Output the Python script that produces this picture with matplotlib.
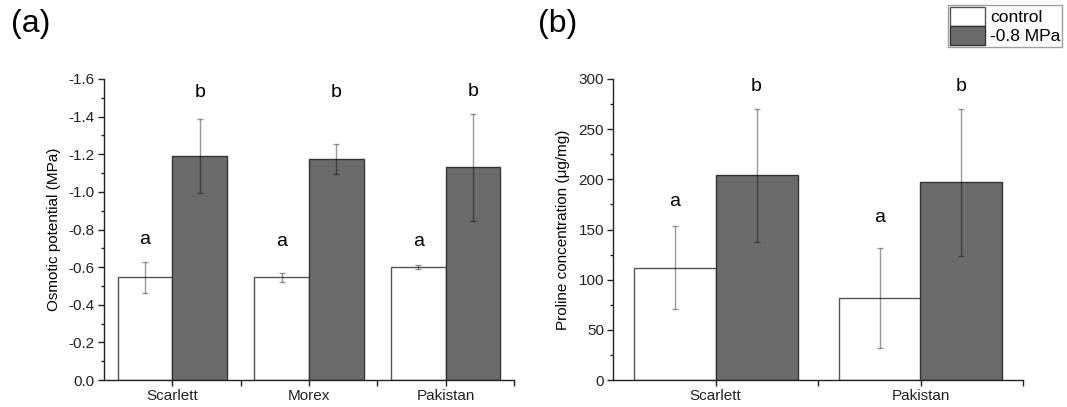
import matplotlib
matplotlib.use("Agg")
import matplotlib.pyplot as plt
import numpy as np
from matplotlib.ticker import MultipleLocator, FixedLocator
from matplotlib.patches import Patch

plt.rcParams['font.family'] = ['Liberation Sans', 'DejaVu Sans']
plt.rcParams['axes.unicode_minus'] = False

# Panel (a) data
cats_a = ["Scarlett", "Morex", "Pakistan"]
ctrl_a = [-0.545, -0.545, -0.600]
ctrl_a_err = [0.082, 0.025, 0.010]
stress_a = [-1.192, -1.175, -1.130]
stress_a_err = [0.197, 0.080, 0.285]
letters_ctrl_a = [-0.745, -0.735, -0.735]
letters_stress_a = [-1.53, -1.53, -1.535]

# Panel (b) data
cats_b = ["Scarlett", "Pakistan"]
ctrl_b = [112, 82]
ctrl_b_err = [41, 50]
stress_b = [204, 197]
stress_b_err = [66, 73]
letters_ctrl_b = [178, 162]
letters_stress_b = [293, 293]

legend_labels = ["control", "-0.8 MPa"]

W, H = 1067, 407
fig = plt.figure(figsize=(W / 100, H / 100), dpi=100)

dark = "#6b6b6b"
edge_ctrl = "#555555"
edge_dark = "#333333"
err_kw = dict(ecolor=(0, 0, 0, 0.4), elinewidth=1.0, capsize=2.5, capthick=1.0)

def style_axes(ax, n):
    ax.spines['top'].set_visible(False)
    ax.spines['right'].set_visible(False)
    for s in ['left', 'bottom']:
        ax.spines[s].set_linewidth(1.0)
        ax.spines[s].set_color("#222222")
    ax.set_xlim(-0.5, n - 0.5)
    ax.xaxis.set_minor_locator(FixedLocator(np.arange(0.5, n, 1.0)))
    ax.tick_params(axis='both', which='major', direction='out', length=4, width=1, labelsize=11,
                   colors="#222222", pad=2.5)
    ax.tick_params(axis='both', which='minor', direction='out', length=2.5, width=1, colors="#222222")
    ax.tick_params(axis='x', which='minor', length=4)

w = 0.4
# Panel (a)
axa = fig.add_axes([104 / W, 1 - 380 / H, (514 - 104) / W, (380 - 79) / H])
x = np.arange(len(cats_a))
axa.bar(x - w / 2, ctrl_a, w, color="white", edgecolor=edge_ctrl, linewidth=1.0,
        yerr=ctrl_a_err, error_kw=err_kw, zorder=2)
axa.bar(x + w / 2, stress_a, w, color=dark, edgecolor=edge_dark, linewidth=1.0,
        yerr=stress_a_err, error_kw=err_kw, zorder=2)
for i in range(len(cats_a)):
    axa.text(x[i] - w / 2, letters_ctrl_a[i], "a", ha="center", va="center", fontsize=14)
    axa.text(x[i] + w / 2, letters_stress_a[i], "b", ha="center", va="center", fontsize=14)
axa.set_ylim(0, -1.6)
axa.yaxis.set_major_locator(MultipleLocator(0.2))
axa.yaxis.set_minor_locator(MultipleLocator(0.1))
axa.yaxis.set_major_formatter(matplotlib.ticker.FuncFormatter(lambda v, p: f"{v:.1f}" if abs(v) > 1e-9 else "0.0"))
axa.set_xticks(x)
axa.set_xticklabels(cats_a)
style_axes(axa, len(cats_a))
axa.set_ylabel("Osmotic potential (MPa)", fontsize=11, labelpad=6)

# Panel (b)
axb = fig.add_axes([613 / W, 1 - 380 / H, (1023 - 613) / W, (380 - 79) / H])
xb = np.arange(len(cats_b))
axb.bar(xb - w / 2, ctrl_b, w, color="white", edgecolor=edge_ctrl, linewidth=1.0,
        yerr=ctrl_b_err, error_kw=err_kw, zorder=2)
axb.bar(xb + w / 2, stress_b, w, color=dark, edgecolor=edge_dark, linewidth=1.0,
        yerr=stress_b_err, error_kw=err_kw, zorder=2)
for i in range(len(cats_b)):
    axb.text(xb[i] - w / 2, letters_ctrl_b[i], "a", ha="center", va="center", fontsize=14)
    axb.text(xb[i] + w / 2, letters_stress_b[i], "b", ha="center", va="center", fontsize=14)
axb.set_ylim(0, 300)
axb.yaxis.set_major_locator(MultipleLocator(50))
axb.yaxis.set_minor_locator(MultipleLocator(25))
axb.set_xticks(xb)
axb.set_xticklabels(cats_b)
style_axes(axb, len(cats_b))
axb.set_ylabel("Proline concentration (μg/mg)", fontsize=11, labelpad=6)

fig.text(11 / W, 1 - 24 / H, "(a)", fontsize=23, va="center", ha="left")
fig.text(538 / W, 1 - 24 / H, "(b)", fontsize=23, va="center", ha="left")

handles = [Patch(facecolor="white", edgecolor=edge_ctrl), Patch(facecolor=dark, edgecolor=edge_dark)]
leg = fig.legend(handles, legend_labels, loc="upper left", bbox_to_anchor=(948 / W, 1 - 5 / H),
                 frameon=True, fancybox=False, fontsize=12.5, handlelength=2.0, handleheight=1.3,
                 handletextpad=0.3, borderpad=0.12, labelspacing=0.0, borderaxespad=0)
leg.get_frame().set_edgecolor("#888888")
leg.get_frame().set_linewidth(1.0)

fig.savefig("out.png", dpi=100)
